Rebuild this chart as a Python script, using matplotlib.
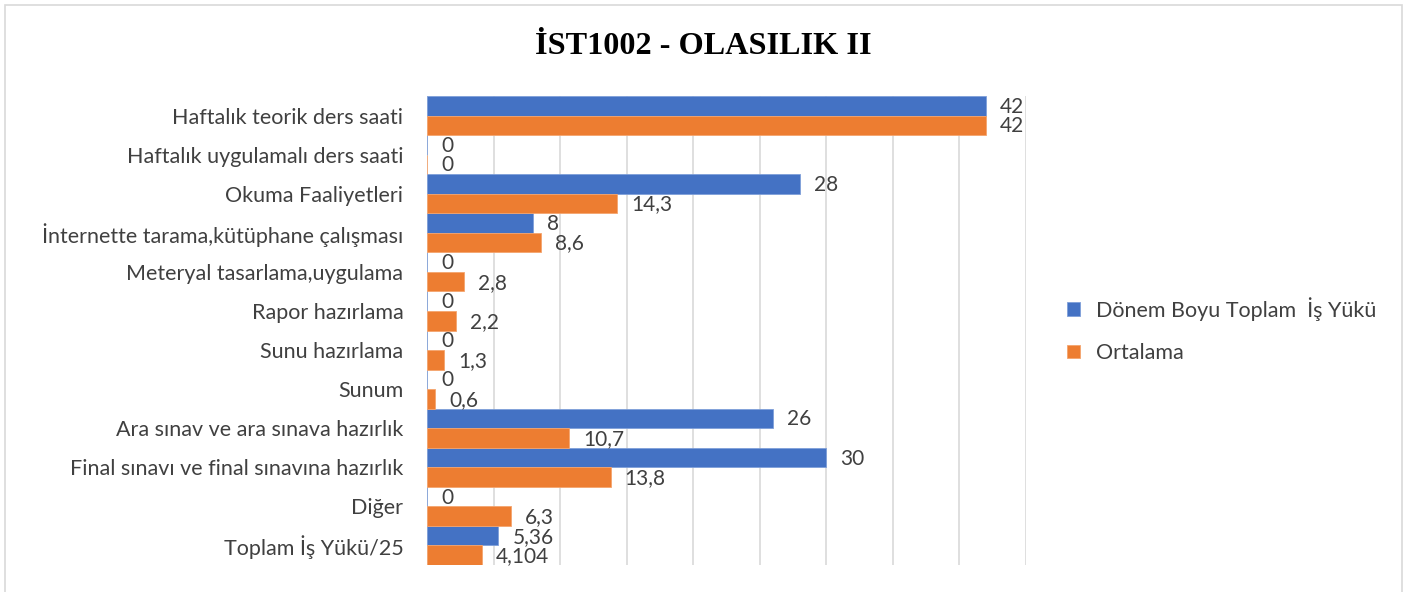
import numpy as np
from matplotlib import pyplot as plt
from matplotlib.patches import Rectangle

categories = ["Haftalık teorik ders saati", "Haftalık uygulamalı ders saati", "Okuma Faaliyetleri",
              "İnternette tarama,kütüphane çalışması", "Meteryal tasarlama,uygulama", "Rapor hazırlama",
              "Sunu hazırlama", "Sunum", "Ara sınav ve ara sınava hazırlık",
              "Final sınavı ve final sınavına hazırlık", "Diğer", "Toplam İş Yükü/25"]
toplam = [42, 0, 28, 8, 0, 0, 0, 0, 26, 30, 0, 5.36]
ortalama = [42, 0, 14.3, 8.6, 2.8, 2.2, 1.3, 0.6, 10.7, 13.8, 6.3, 4.104]
toplam_labels = ["42", "0", "28", "8", "0", "0", "0", "0", "26", "30", "0", "5,36"]
ortalama_labels = ["42", "0", "14,3", "8,6", "2,8", "2,2", "1,3", "0,6", "10,7", "13,8", "6,3", "4,104"]
series_names = ["Dönem Boyu Toplam  İş Yükü", "Ortalama"]

W, H = 1412, 592
fig = plt.figure(figsize=(W / 100, H / 100), dpi=100)
fig.patches.append(Rectangle((5 / W, -0.01), 1397 / W, 1 - 5 / H + 0.01, transform=fig.transFigure,
                             fill=False, edgecolor="#D9D9D9", linewidth=1.2))

ax = fig.add_axes([427 / W, 1 - 565 / H, (1026 - 427) / W, (565 - 96) / H])
y = np.arange(len(categories))
h = 0.5
txt = "#404040"
font = "Lato"

bars_b = ax.barh(y - h / 2, toplam, h, color="#4472C4", edgecolor="#7f9fd9", linewidth=0.6,
                 label=series_names[0], zorder=3)
bars_o = ax.barh(y + h / 2, ortalama, h, color="#ED7D31", edgecolor="#f4a46e", linewidth=0.6,
                 label=series_names[1], zorder=3)

for bars, labels in ((bars_b, toplam_labels), (bars_o, ortalama_labels)):
    for rect, lab in zip(bars, labels):
        ax.annotate(lab, xy=(rect.get_width(), rect.get_y() + rect.get_height() / 2),
                    xytext=(14, -1), textcoords="offset pixels", ha="left", va="center",
                    fontsize=15, color=txt, family=font)

ax.set_xlim(0, 45)
ax.set_ylim(len(categories) - 0.5, -0.5)
ax.set_xticks(np.arange(0, 46, 5))
ax.set_xticklabels([])
ax.tick_params(axis="x", length=0)
ax.tick_params(axis="y", length=0, pad=17)
ax.set_yticks(y)
ax.set_yticklabels(categories, fontsize=15.5, color=txt, family=font)
ax.grid(axis="x", color="#D9D9D9", linewidth=1.2, zorder=0)
for s in ax.spines.values():
    s.set_visible(False)

fig.text(703 / W, 1 - 46 / H, "İST1002 - OLASILIK II", ha="center", va="center",
         fontsize=23.2, fontweight="bold", family="Liberation Serif", color="black")

ax.legend(loc="center left", bbox_to_anchor=(1048 / W, 1 - 330 / H), bbox_transform=fig.transFigure,
          frameon=False, prop={"family": font, "size": 15.5}, labelcolor=txt,
          handlelength=0.6, handleheight=0.6, handletextpad=0.75, labelspacing=1.05)

plt.savefig("out.png", dpi=100)
